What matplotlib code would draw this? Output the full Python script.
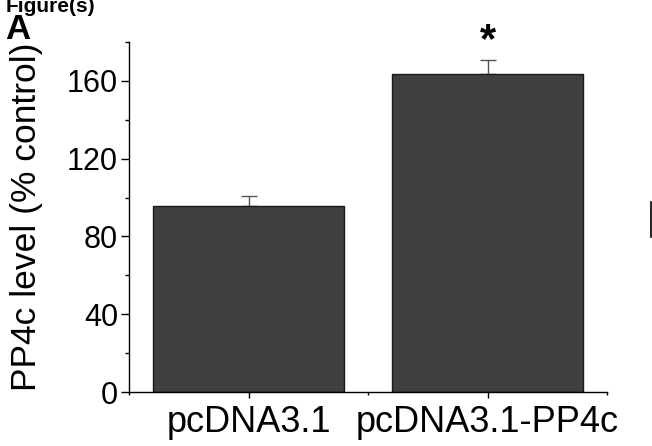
import matplotlib
matplotlib.use("Agg")
import matplotlib.pyplot as plt
from matplotlib.ticker import MultipleLocator
from matplotlib.lines import Line2D

plt.rcParams['font.family'] = ['Liberation Sans', 'DejaVu Sans']

# data
groups = ['pcDNA3.1', 'pcDNA3.1-PP4c']
level = [95.5, 163.5]
sem = [5.5, 7.0]
signif = ['', '*']

fig = plt.figure(figsize=(6.52, 4.46), dpi=100)
ax = fig.add_axes([0.198, 0.121, 0.733, 0.785])

pos = [1, 2]
ax.bar(pos, level, width=0.8, color='#404040', edgecolor='#1a1a1a', linewidth=1.0, zorder=2)
ax.errorbar(pos, level, yerr=[[0, 0], sem], fmt='none', ecolor='#555555',
            elinewidth=1.0, capsize=6, capthick=1.0, zorder=1)

for p, v, e, s in zip(pos, level, sem, signif):
    if s:
        ax.text(p, v + e + 10, s, ha='center', va='center', fontsize=30,
                fontweight='bold', clip_on=False)

ax.set_xlim(0.5, 2.5)
ax.set_ylim(0, 180)
ax.yaxis.set_major_locator(MultipleLocator(40))
ax.yaxis.set_minor_locator(MultipleLocator(20))
ax.set_xticks(pos)
ax.set_xticklabels(groups, fontsize=26)
ax.xaxis.set_minor_locator(MultipleLocator(0.5))
ax.tick_params(axis='y', which='major', labelsize=22, length=6, width=1.0, direction='out', pad=2)
ax.tick_params(axis='y', which='minor', length=3, width=1.0, direction='out')
ax.tick_params(axis='x', which='major', length=4, width=1.0, direction='out', pad=5)
ax.tick_params(axis='x', which='minor', length=2.5, width=1.0, direction='out')

for side in ['top', 'right']:
    ax.spines[side].set_visible(False)
for side in ['left', 'bottom']:
    ax.spines[side].set_linewidth(1.0)

ax.set_ylabel('PP4c level (% control)', fontsize=25.5, labelpad=4)
ax.yaxis.set_label_coords(-0.18, 0.5)

fig.text(0.008, 0.973, 'Figure(s)', fontsize=15, fontweight='bold', va='baseline', ha='left')
fig.text(0.008, 0.9126, 'A', fontsize=25, fontweight='bold', va='baseline', ha='left')
fig.add_artist(Line2D([0.998, 0.998], [1 - 202 / 446, 1 - 237 / 446], color='black', lw=1.2))

fig.savefig('out.png', dpi=100)
